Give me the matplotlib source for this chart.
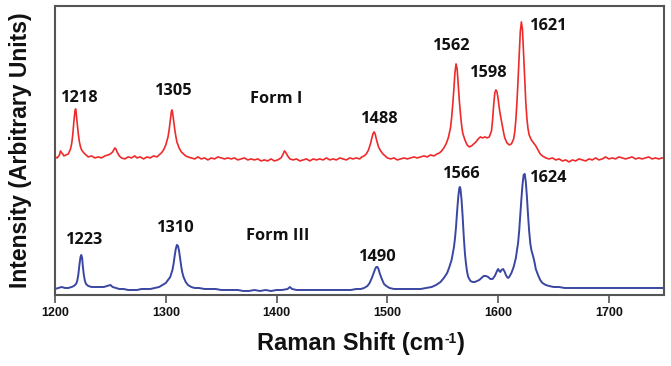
import matplotlib
matplotlib.use("Agg")
import matplotlib.pyplot as plt

# colours
RED = "#ee2a2a"
BLUE = "#3a47a2"
SPINE = "#555555"

# ---------------------------------------------------------------
# spectra (arbitrary intensity units)
# ---------------------------------------------------------------
form1_shift = [
    1200, 1202, 1204, 1205, 1206, 1207, 1208, 1210, 1212, 1214, 1215, 1216, 1217,
    1218, 1218.6, 1219, 1220, 1221, 1222, 1223, 1224, 1226, 1228, 1230, 1233,
    1236, 1239, 1242, 1245, 1248, 1250, 1252, 1254, 1255, 1256, 1258, 1260, 1263,
    1266, 1269, 1272, 1274, 1277, 1280, 1283, 1286, 1289, 1292, 1294, 1296, 1298,
    1300, 1302, 1303, 1304, 1305, 1305.5, 1306, 1307, 1308, 1309, 1310, 1312,
    1314, 1316, 1318, 1320, 1323, 1326, 1329, 1332, 1335, 1338, 1341, 1344, 1347,
    1350, 1353, 1356, 1359, 1362, 1365, 1368, 1371, 1374, 1377, 1380, 1383, 1386,
    1389, 1392, 1395, 1398, 1401, 1404, 1406, 1407, 1408, 1410, 1412, 1415, 1418,
    1421, 1424, 1427, 1430, 1433, 1436, 1439, 1442, 1445, 1448, 1451, 1454, 1457,
    1460, 1463, 1466, 1469, 1472, 1475, 1477, 1479, 1481, 1483, 1485, 1486, 1487,
    1488, 1489, 1490, 1491, 1492, 1494, 1496, 1498, 1500, 1503, 1506, 1509, 1512,
    1515, 1518, 1521, 1524, 1527, 1530, 1533, 1536, 1539, 1542, 1545, 1547, 1549,
    1551, 1553, 1555, 1557, 1558, 1559, 1560, 1561, 1562, 1563, 1564, 1565, 1566,
    1567, 1568, 1570, 1572, 1574, 1576, 1578, 1580, 1582, 1584, 1586, 1588, 1590,
    1592, 1594, 1595, 1596, 1597, 1598, 1599, 1600, 1601, 1602, 1603, 1604, 1605,
    1606, 1608, 1610, 1612, 1614, 1615, 1616, 1617, 1618, 1619, 1620, 1621, 1622,
    1623, 1624, 1625, 1626, 1627, 1628, 1630, 1632, 1634, 1636, 1638, 1640, 1643,
    1646, 1649, 1652, 1655, 1658, 1661, 1664, 1667, 1670, 1673, 1676, 1679, 1682,
    1685, 1688, 1691, 1694, 1697, 1700, 1703, 1706, 1709, 1712, 1715, 1718, 1721,
    1724, 1727, 1730, 1733, 1736, 1739, 1742, 1745, 1748, 1750,
]
form1_int = [
    138, 137, 140, 144, 142, 141, 139, 140, 141, 146, 151, 160, 173,
    184, 186, 183, 172, 161, 153, 148, 145, 142, 140, 138, 139,
    137, 138, 137, 139, 140, 141, 143, 147, 146, 143, 139, 137, 136,
    138, 137, 139, 137, 138, 136, 138, 137, 139, 138, 140, 142, 145,
    150, 158, 165, 174, 183, 185, 183, 175, 166, 159, 153, 147,
    143, 141, 139, 138, 137, 136, 138, 136, 137, 135, 137, 136, 138,
    137, 136, 137, 136, 137, 135, 136, 137, 135, 136, 135, 136, 134,
    135, 134, 136, 134, 135, 137, 141, 144, 143, 139, 136, 135, 136,
    134, 135, 136, 134, 136, 135, 136, 135, 137, 135, 136, 135, 137,
    136, 135, 137, 136, 137, 136, 138, 139, 141, 145, 152, 157, 161,
    163, 161, 156, 152, 148, 144, 141, 139, 137, 136, 137, 135, 136,
    137, 136, 137, 138, 137, 138, 139, 138, 140, 139, 141, 142, 144,
    147, 151, 157, 167, 177, 190, 205, 222, 231, 226, 210, 194, 181,
    170, 162, 155, 150, 148, 149, 151, 153, 156, 158, 157, 158, 157,
    158, 164, 175, 190, 202, 205, 203, 196, 187, 180, 174, 168, 162,
    157, 152, 150, 151, 156, 163, 175, 193, 215, 240, 263, 273, 265,
    240, 214, 192, 176, 166, 160, 155, 152, 149, 145, 141, 139, 137,
    136, 137, 135, 136, 134, 135, 133, 135, 134, 136, 135, 134, 136,
    135, 137, 135, 136, 138, 136, 137, 136, 138, 137, 136, 137, 138,
    136, 137, 136, 137, 138, 136, 137, 136, 137, 137,
]

form3_shift = [
    1200, 1203, 1206, 1209, 1212, 1215, 1217, 1219, 1220, 1221, 1222, 1223,
    1223.7, 1224.5, 1225, 1226, 1227, 1228, 1230, 1233, 1236, 1240, 1244, 1247,
    1250, 1252, 1255, 1258, 1262, 1266, 1270, 1274, 1278, 1282, 1286, 1290, 1294,
    1297, 1300, 1302, 1304, 1306, 1307, 1308, 1309, 1310, 1311, 1312, 1313, 1314,
    1315, 1316, 1318, 1320, 1323, 1326, 1330, 1335, 1340, 1345, 1350, 1355, 1360,
    1365, 1370, 1375, 1380, 1385, 1390, 1395, 1400, 1405, 1410, 1412, 1414, 1418,
    1422, 1427, 1432, 1437, 1442, 1447, 1452, 1457, 1462, 1467, 1472, 1476, 1479,
    1482, 1484, 1486, 1488, 1489, 1490, 1491, 1492, 1493, 1495, 1497, 1499, 1502,
    1506, 1510, 1515, 1520, 1525, 1530, 1535, 1540, 1544, 1548, 1551, 1554, 1556,
    1558, 1560, 1561, 1562, 1563, 1564, 1565, 1565.5, 1566, 1567, 1568, 1569,
    1570, 1571, 1572, 1573, 1575, 1577, 1579, 1581, 1583, 1585, 1587, 1589, 1591,
    1593, 1595, 1597, 1599, 1600, 1601, 1602, 1603, 1604.5, 1606, 1607, 1608,
    1609, 1610, 1612, 1614, 1616, 1618, 1619, 1620, 1621, 1622, 1623, 1624, 1625,
    1626, 1627, 1628, 1629, 1630, 1631, 1632, 1633, 1634, 1636, 1638, 1640, 1643,
    1646, 1650, 1655, 1660, 1665, 1670, 1675, 1680, 1685, 1690, 1695, 1700, 1705,
    1710, 1715, 1720, 1725, 1730, 1735, 1740, 1745, 1750,
]
form3_int = [
    6, 7, 8, 7, 7, 8, 9, 11, 14, 20, 30, 38,
    40, 37, 30, 20, 14, 11, 9, 8, 8, 8, 8, 9,
    10, 8, 7, 6, 6, 5, 5, 5, 6, 6, 6, 7, 8,
    10, 12, 15, 18, 25, 31, 39, 46, 50, 49, 44, 36, 28,
    22, 18, 13, 10, 8, 7, 7, 6, 6, 6, 5, 5, 5,
    5, 4, 4, 5, 4, 5, 4, 5, 5, 6, 8, 6, 5,
    5, 5, 5, 5, 5, 5, 5, 5, 5, 5, 6, 6, 7,
    9, 12, 17, 23, 26, 28, 28, 26, 22, 16, 11, 9, 7,
    6, 6, 6, 6, 6, 6, 7, 8, 10, 13, 17, 22, 28,
    35, 47, 56, 68, 84, 98, 107, 108, 106, 95, 78, 58,
    42, 31, 23, 18, 14, 13, 13, 14, 15, 17, 19, 19, 18,
    16, 16, 19, 24, 26, 24, 23, 25, 26, 23, 20, 18,
    17, 18, 22, 28, 37, 52, 64, 80, 96, 110, 120, 121, 113,
    98, 80, 64, 52, 45, 41, 37, 32, 26, 20, 15, 12, 10,
    9, 8, 8, 7, 7, 7, 7, 7, 7, 7, 7, 7, 7,
    7, 7, 7, 7, 7, 7, 7, 7, 7,
]

# peak labels
form1_labels = ["1218", "1305", "1488", "1562", "1598", "1621"]
form3_labels = ["1223", "1310", "1490", "1566", "1624"]
# where the labels sit (shift, intensity)
form1_label_pos = [(1222, 197), (1307, 204), (1493, 176), (1558, 249), (1592, 222), (1646, 269)]
form3_label_pos = [(1227, 55), (1309, 67), (1491, 38), (1567, 121), (1646, 117)]

xticks = [1200, 1300, 1400, 1500, 1600, 1700]

# ---------------------------------------------------------------
fig = plt.figure(figsize=(6.71, 3.66), dpi=100, facecolor="white")
ax = fig.add_axes([0.082, 0.194, 0.908, 0.790])

ax.plot(form1_shift, form1_int, color=RED, lw=1.2)
ax.plot(form3_shift, form3_int, color=BLUE, lw=1.4)

lab_font = dict(family="Open Sans", fontweight="bold", fontsize=11.8,
                ha="center", va="center", color="#111111")
for txt, (x, y) in zip(form1_labels, form1_label_pos):
    ax.text(x, y, txt, **lab_font)
for txt, (x, y) in zip(form3_labels, form3_label_pos):
    ax.text(x, y, txt, **lab_font)

ax.text(1400, 196, "Form I", **lab_font)
ax.text(1401, 59, "Form III", **lab_font)

ax.set_xlim(1200, 1750)
ax.set_ylim(0, 289)
ax.set_xticks(xticks)
ax.set_yticks([])
ax.tick_params(axis="x", direction="out", length=6, width=1.2, color=SPINE, pad=3)
for lab in ax.get_xticklabels():
    lab.set_fontfamily("Liberation Sans")
    lab.set_fontweight("bold")
    lab.set_fontsize(9)
    lab.set_color("#111111")
for s in ax.spines.values():
    s.set_color(SPINE)
    s.set_linewidth(1.5)

# x label with a small superscript "-1"
fig.canvas.draw()
r = fig.canvas.get_renderer()
xfont = dict(family="Liberation Sans", fontweight="bold", fontsize=17, color="#111111")
t1 = fig.text(0, 0, "Raman Shift (cm", va="baseline", ha="left", **xfont)
t2 = fig.text(0, 0, "-1", va="baseline", ha="left", family="Liberation Sans",
              fontweight="bold", fontsize=10, color="#111111")
t3 = fig.text(0, 0, ")", va="baseline", ha="left", **xfont)
w1 = t1.get_window_extent(r).width
w2 = t2.get_window_extent(r).width
w3 = t3.get_window_extent(r).width
W, H = fig.bbox.width, fig.bbox.height
x0 = 361 - (w1 + w2 + w3) / 2
base = H - 350
t1.set_position((x0 / W, base / H))
t2.set_position(((x0 + w1) / W, (base + 7) / H))
t3.set_position(((x0 + w1 + w2) / W, base / H))

fig.text(0.030, 0.59, "Intensity (Arbitrary Units)", ha="center", va="center",
         rotation=90, family="Liberation Sans", fontweight="bold", fontsize=16.5,
         color="#111111")

plt.savefig("out.png", dpi=100)
plt.close()
